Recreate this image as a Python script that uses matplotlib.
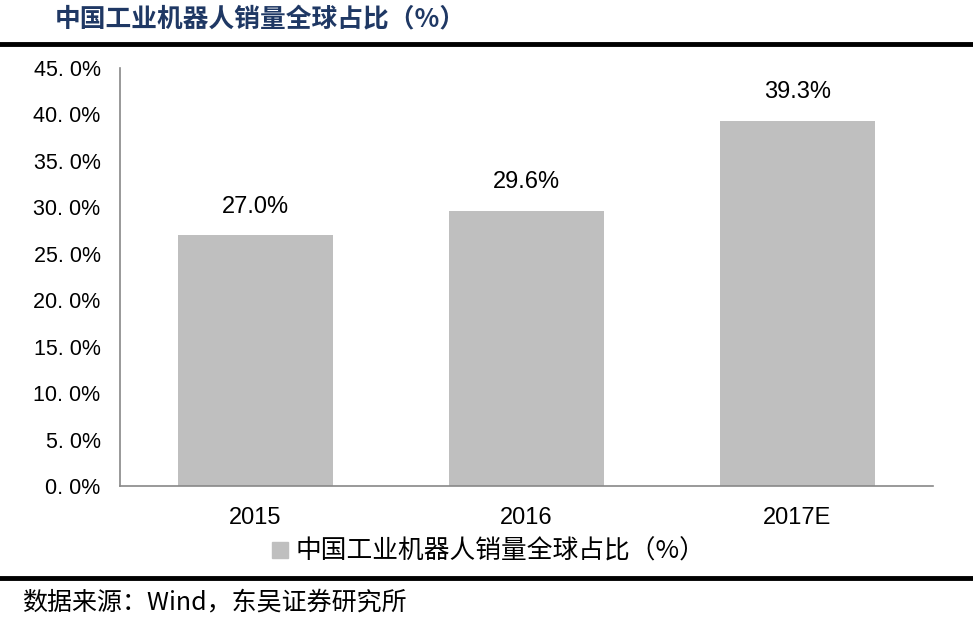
import matplotlib
matplotlib.use('Agg')
import matplotlib.pyplot as plt
from matplotlib.lines import Line2D

plt.rcParams['font.family'] = ['Noto Sans CJK SC', 'DejaVu Sans']

years = ["2015", "2016", "2017E"]
share = [27.0, 29.6, 39.3]
yticks = [0, 5, 10, 15, 20, 25, 30, 35, 40, 45]
series_name = "中国工业机器人销量全球占比（%）"

fig = plt.figure(figsize=(9.73, 6.19), dpi=100)
ax = fig.add_axes([120 / 973, 1 - 486 / 619, 813 / 973, 418 / 619])

x = range(len(years))
ax.bar(x, share, width=0.57, color="#bfbfbf", zorder=2)
for xi, v in zip(x, share):
    ax.text(xi, v + 1.9, "%.1f%%" % v, ha="center", va="bottom",
            fontsize=17, family=['Liberation Sans', 'DejaVu Sans'])

ax.set_xlim(-0.5, len(years) - 0.5)
ax.set_ylim(0, 45)
ax.set_yticks(yticks)
ax.set_yticklabels(["%d. 0%%" % t for t in yticks], fontsize=15.5,
                   family=['Liberation Sans', 'DejaVu Sans'])
ax.set_xticks(list(x))
ax.set_xticklabels(years, fontsize=17, family=['Liberation Sans', 'DejaVu Sans'])
ax.tick_params(axis='both', length=0, pad=14)
ax.tick_params(axis='x', pad=15)
for s in ["top", "right"]:
    ax.spines[s].set_visible(False)
for s in ["left", "bottom"]:
    ax.spines[s].set_color("#888888")
    ax.spines[s].set_linewidth(1.2)

# legend
handle = Line2D([], [], marker='s', linestyle='none', color="#bfbfbf", markersize=11)
fig.legend([handle], [series_name], loc="center", bbox_to_anchor=(486 / 973, 1 - 552 / 619),
           frameon=False, fontsize=18.5, handletextpad=0.1, handlelength=1.0)

# title and frame lines
fig.text(55 / 973, 1 - 19 / 619, series_name, fontsize=18.5, fontweight="bold",
         color="#1f3864", va="center", ha="left")
fig.add_artist(Line2D([0, 1], [1 - 44 / 619] * 2, color="black", linewidth=3.5))
fig.add_artist(Line2D([0, 1], [1 - 578 / 619] * 2, color="black", linewidth=3.5))
fig.text(22 / 973, 1 - 602 / 619, "数据来源：Wind，东吴证券研究所", fontsize=18,
         va="center", ha="left")

fig.savefig("out.png", dpi=100)
